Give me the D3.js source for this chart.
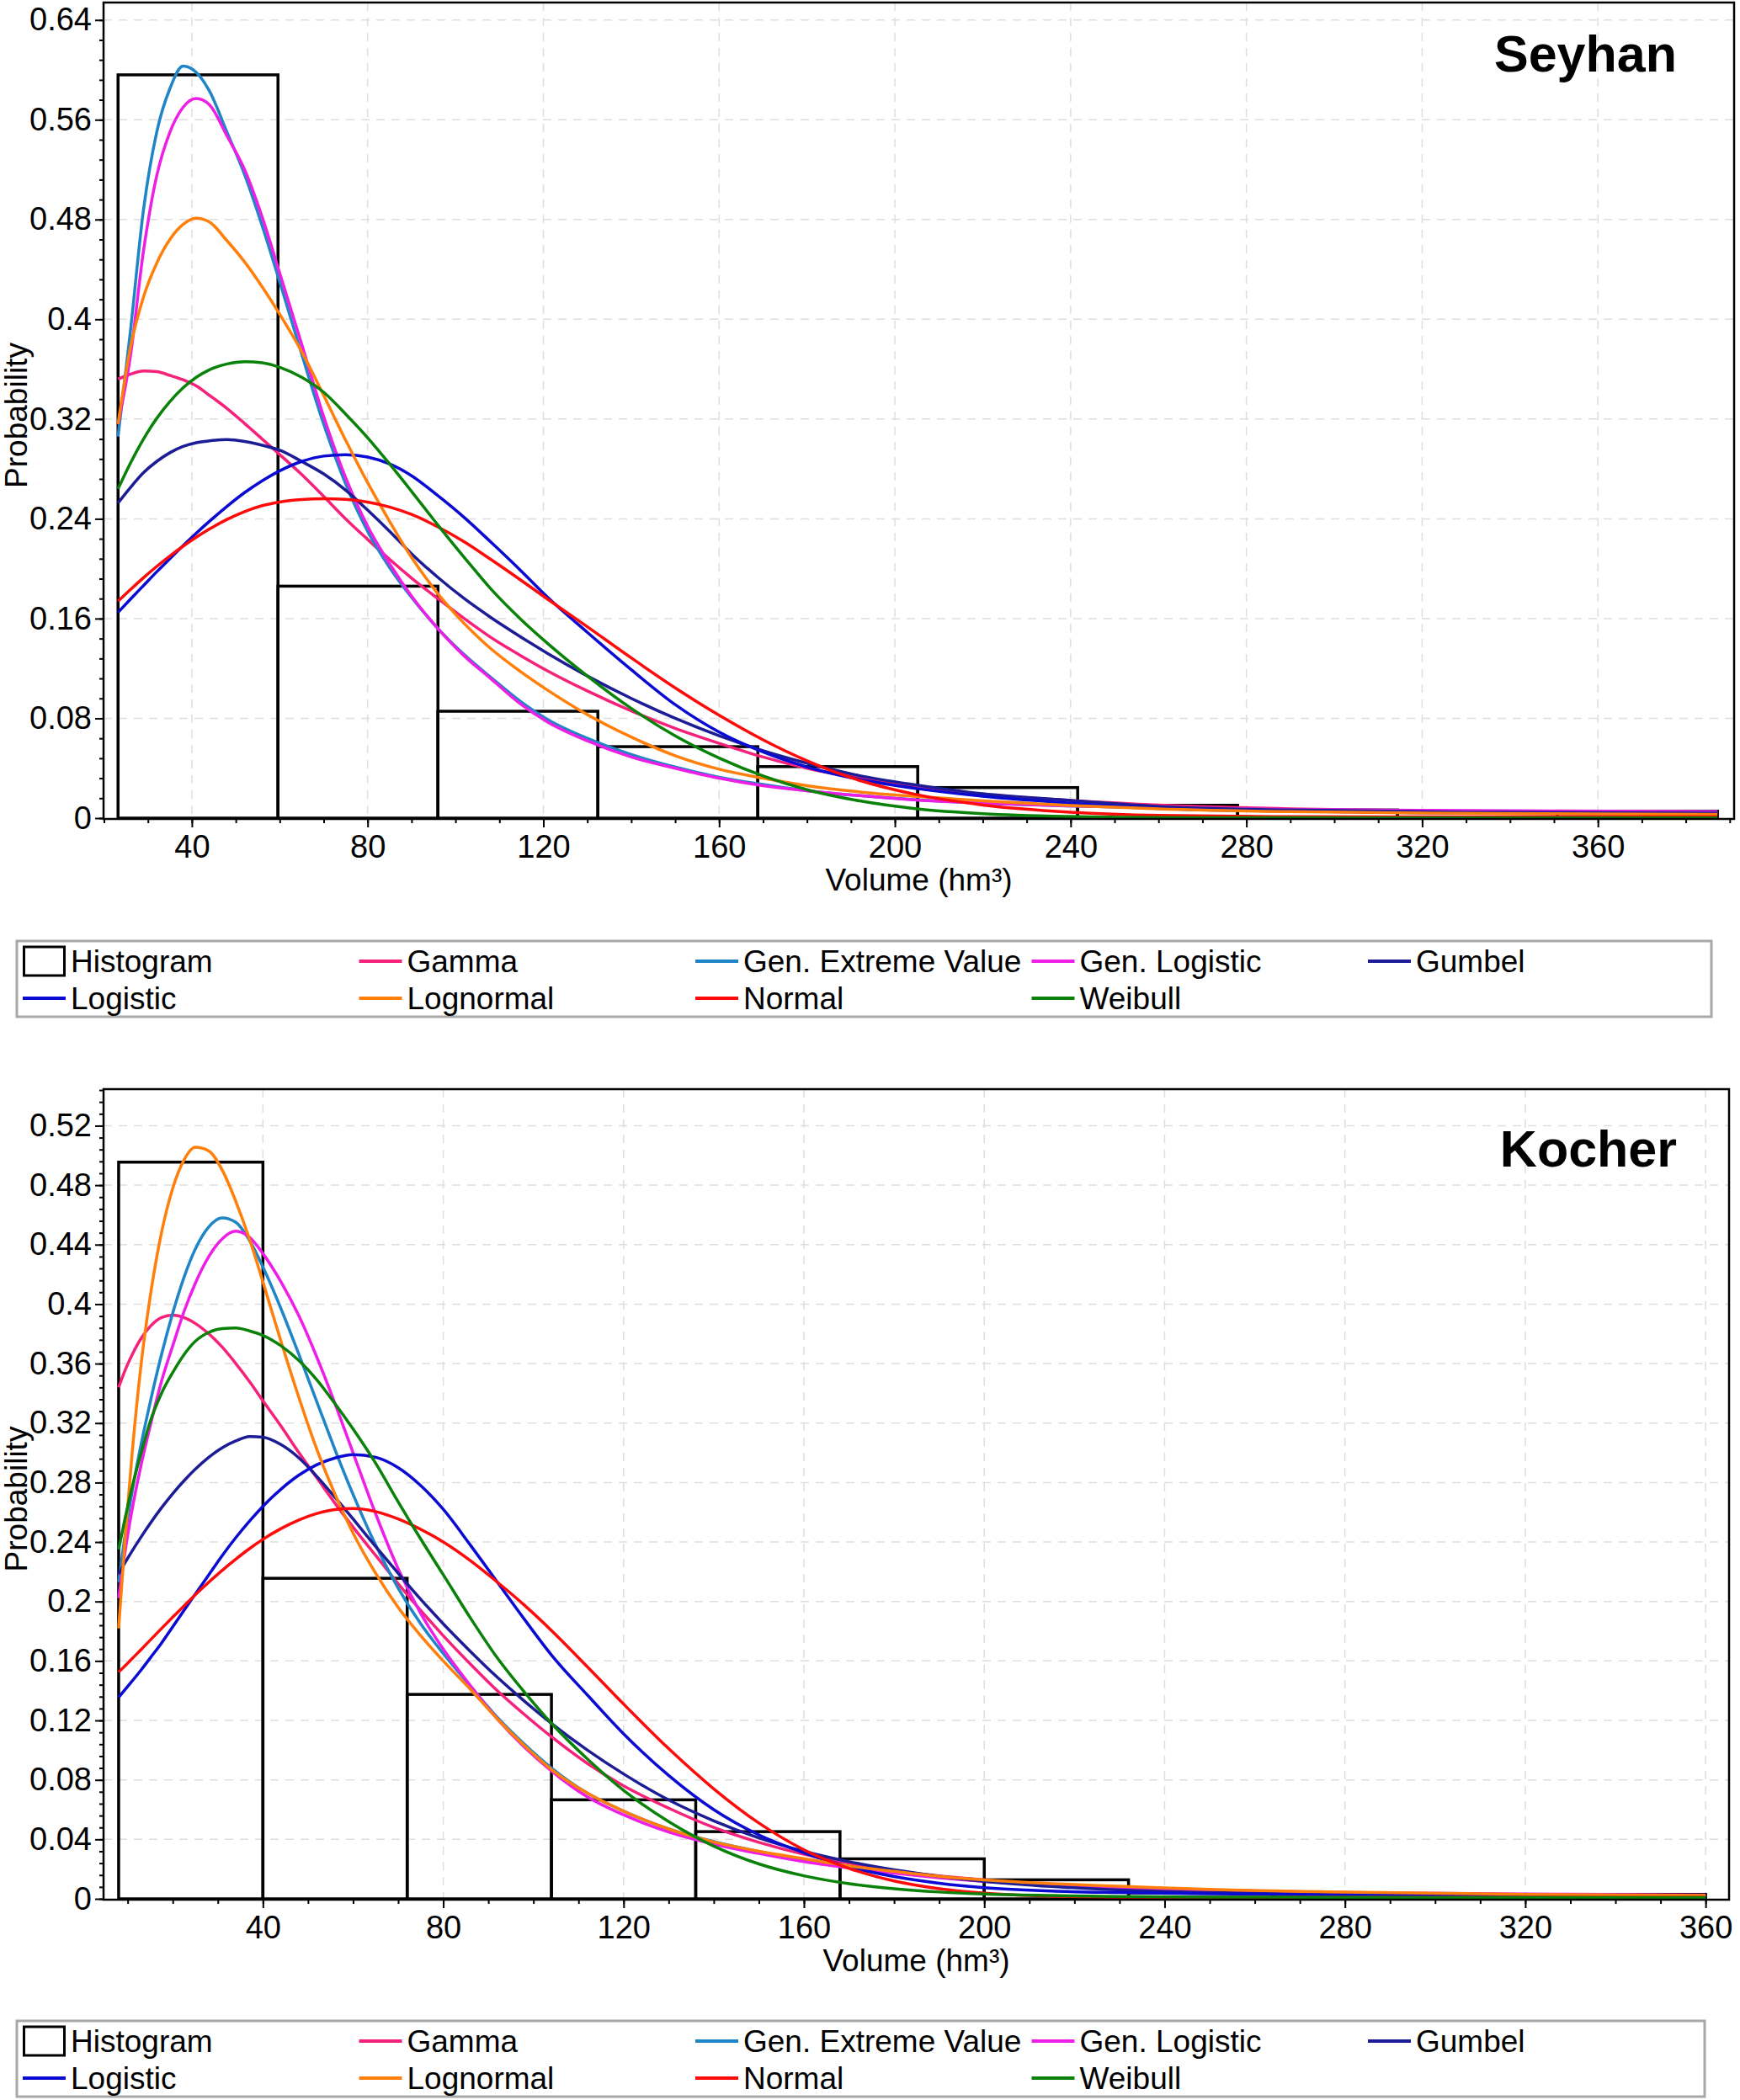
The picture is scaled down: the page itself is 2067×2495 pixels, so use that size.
<!DOCTYPE html>
<html>
<head>
<meta charset="utf-8">
<script src="https://cdn.jsdelivr.net/npm/d3@7"></script>
<style>
	body { margin: 0; background: #fff; }
	text { font-family: Arial, "Liberation Sans", sans-serif; }
</style>
</head>
<body>
<div id="demo"></div>
<script>

// ---- data ----

// Seyhan: sample volumes for the fitted curves
var seyhanVolume = [23.2, 26, 29, 32, 35, 38, 41, 44, 48, 52, 56, 60, 65, 70, 75, 80, 85, 90, 96, 102, 108, 115, 121, 130, 140, 150, 160, 170, 180, 192, 205, 220, 240, 260, 290, 330, 387.2];
var seyhanGamma     = [0.352, 0.356, 0.3585, 0.358, 0.355, 0.3515, 0.3465, 0.339, 0.3285, 0.3165, 0.304, 0.2915, 0.2755, 0.258, 0.24, 0.2235, 0.2075, 0.1925, 0.176, 0.16, 0.145, 0.13, 0.118, 0.102, 0.086, 0.072, 0.06, 0.049, 0.04, 0.032, 0.025, 0.019, 0.0142, 0.0105, 0.0075, 0.0055, 0.004];
var seyhanGev       = [0.306, 0.39, 0.488, 0.55, 0.585, 0.603, 0.598, 0.583, 0.55, 0.516, 0.475, 0.43, 0.372, 0.316, 0.268, 0.23, 0.201, 0.177, 0.152, 0.131, 0.113, 0.093, 0.079, 0.064, 0.051, 0.041, 0.0328, 0.027, 0.022, 0.018, 0.0147, 0.012, 0.0098, 0.0081, 0.0068, 0.0058, 0.005];
var seyhanGenLog    = [0.316, 0.37, 0.455, 0.515, 0.55, 0.57, 0.577, 0.572, 0.547, 0.52, 0.482, 0.437, 0.38, 0.322, 0.273, 0.234, 0.204, 0.178, 0.152, 0.13, 0.112, 0.091, 0.077, 0.062, 0.049, 0.04, 0.032, 0.026, 0.022, 0.018, 0.0145, 0.012, 0.0098, 0.0083, 0.007, 0.006, 0.0052];
var seyhanGumbel    = [0.2527, 0.265, 0.277, 0.286, 0.293, 0.298, 0.301, 0.3025, 0.3035, 0.302, 0.299, 0.295, 0.286, 0.276, 0.263, 0.247, 0.23, 0.212, 0.193, 0.176, 0.161, 0.145, 0.132, 0.114, 0.096, 0.08, 0.066, 0.054, 0.044, 0.034, 0.0265, 0.0195, 0.0142, 0.0093, 0.0065, 0.0048, 0.004];
var seyhanLogistic  = [0.165, 0.1755, 0.1865, 0.1975, 0.208, 0.2185, 0.2285, 0.238, 0.25, 0.261, 0.2705, 0.2785, 0.286, 0.2903, 0.2914, 0.2895, 0.284, 0.2745, 0.2585, 0.241, 0.2215, 0.198, 0.177, 0.149, 0.119, 0.091, 0.069, 0.053, 0.041, 0.031, 0.0237, 0.0175, 0.012, 0.0078, 0.0055, 0.004, 0.003];
var seyhanLognormal = [0.316, 0.377, 0.418, 0.445, 0.464, 0.476, 0.481, 0.478, 0.463, 0.446, 0.426, 0.404, 0.374, 0.339, 0.303, 0.269, 0.238, 0.209, 0.18, 0.156, 0.136, 0.117, 0.1025, 0.083, 0.065, 0.05, 0.0392, 0.032, 0.026, 0.021, 0.0173, 0.0138, 0.0102, 0.0075, 0.0052, 0.0038, 0.003];
var seyhanNormal    = [0.174, 0.1832, 0.1928, 0.2018, 0.2102, 0.218, 0.2252, 0.2318, 0.2395, 0.2458, 0.2506, 0.2535, 0.2555, 0.2562, 0.2556, 0.2535, 0.2495, 0.2435, 0.2335, 0.2215, 0.2075, 0.1905, 0.1755, 0.1535, 0.1285, 0.1045, 0.0825, 0.0628, 0.046, 0.0302, 0.0188, 0.0105, 0.0048, 0.0022, 0.0012, 0.001, 0.001];
var seyhanWeibull   = [0.264, 0.2845, 0.304, 0.3205, 0.334, 0.345, 0.3535, 0.3595, 0.3642, 0.366, 0.3652, 0.3615, 0.3535, 0.3415, 0.324, 0.305, 0.284, 0.262, 0.235, 0.209, 0.184, 0.159, 0.14, 0.114, 0.088, 0.066, 0.0482, 0.0338, 0.0228, 0.0138, 0.0075, 0.0036, 0.0013, 0.0005, 0.0003, 0.0002, 0.0002];
var seyhanBinEdges   = [23.2, 59.6, 96.0, 132.4, 168.8, 205.2, 241.6, 278.0, 314.4, 350.8, 387.2];
var seyhanBinHeights = [0.596, 0.186, 0.0857, 0.0573, 0.0413, 0.0245, 0.0103, 0.0065, 0.0045, 0.0056];
var seyhanYTicks      = [0, 0.08, 0.16, 0.24, 0.32, 0.4, 0.48, 0.56, 0.64];
var seyhanYTickLabels = ['0', '0.08', '0.16', '0.24', '0.32', '0.4', '0.48', '0.56', '0.64'];

// Kocher
var kocherVolume = [8, 9.5, 11, 13, 15, 17.5, 20, 22.5, 25, 28, 31, 34, 37, 40, 44, 48, 52, 56, 60, 65, 70, 75, 80, 86, 92, 98, 104, 112, 120, 130, 140, 150, 160, 170, 180, 190, 200, 215, 230, 250, 280, 320, 360];
var kocherGamma     = [0.344, 0.356, 0.366, 0.377, 0.385, 0.391, 0.3926, 0.391, 0.387, 0.38, 0.371, 0.36, 0.348, 0.335, 0.318, 0.3, 0.283, 0.266, 0.25, 0.231, 0.212, 0.194, 0.177, 0.158, 0.14, 0.124, 0.109, 0.091, 0.076, 0.061, 0.048, 0.038, 0.03, 0.024, 0.019, 0.0155, 0.0128, 0.0095, 0.0072, 0.0055, 0.004, 0.0028, 0.002];
var kocherGev       = [0.213, 0.246, 0.274, 0.306, 0.334, 0.366, 0.394, 0.418, 0.437, 0.452, 0.458, 0.455, 0.443, 0.425, 0.397, 0.366, 0.334, 0.302, 0.272, 0.238, 0.209, 0.185, 0.165, 0.143, 0.122, 0.104, 0.088, 0.071, 0.059, 0.047, 0.0385, 0.0318, 0.026, 0.0214, 0.0178, 0.0147, 0.0123, 0.0095, 0.0072, 0.0056, 0.004, 0.0028, 0.002];
var kocherGenLog    = [0.2023, 0.235, 0.262, 0.292, 0.318, 0.348, 0.372, 0.395, 0.414, 0.432, 0.444, 0.449, 0.445, 0.434, 0.415, 0.392, 0.364, 0.333, 0.3, 0.259, 0.222, 0.192, 0.168, 0.1435, 0.121, 0.102, 0.086, 0.0685, 0.0565, 0.045, 0.0368, 0.0305, 0.025, 0.0208, 0.0172, 0.0142, 0.0118, 0.0092, 0.0072, 0.0058, 0.0042, 0.0032, 0.0026];
var kocherGumbel    = [0.2185, 0.2265, 0.234, 0.2435, 0.2525, 0.263, 0.2725, 0.2812, 0.289, 0.297, 0.3035, 0.308, 0.311, 0.3105, 0.3055, 0.2965, 0.284, 0.27, 0.2555, 0.237, 0.219, 0.2015, 0.185, 0.1665, 0.149, 0.133, 0.118, 0.1, 0.084, 0.0665, 0.0525, 0.041, 0.032, 0.025, 0.0195, 0.0152, 0.0118, 0.0083, 0.006, 0.0042, 0.0028, 0.0018, 0.0013];
var kocherLogistic  = [0.1355, 0.141, 0.1465, 0.154, 0.162, 0.172, 0.183, 0.194, 0.205, 0.218, 0.231, 0.243, 0.254, 0.264, 0.2755, 0.285, 0.292, 0.2965, 0.2987, 0.297, 0.29, 0.278, 0.262, 0.238, 0.213, 0.188, 0.164, 0.137, 0.111, 0.083, 0.06, 0.043, 0.031, 0.0215, 0.015, 0.0105, 0.0075, 0.0052, 0.0042, 0.0034, 0.0025, 0.0018, 0.0015];
var kocherLognormal = [0.182, 0.245, 0.3, 0.36, 0.405, 0.448, 0.478, 0.497, 0.5055, 0.503, 0.49, 0.469, 0.444, 0.415, 0.375, 0.337, 0.302, 0.272, 0.246, 0.219, 0.196, 0.177, 0.16, 0.141, 0.121, 0.103, 0.087, 0.071, 0.059, 0.047, 0.0383, 0.032, 0.027, 0.0221, 0.0185, 0.0152, 0.0127, 0.0102, 0.0085, 0.0063, 0.0045, 0.003, 0.0023];
var kocherNormal    = [0.1525, 0.157, 0.1616, 0.1677, 0.174, 0.1818, 0.1895, 0.197, 0.2045, 0.213, 0.221, 0.2285, 0.2355, 0.2418, 0.249, 0.2548, 0.2592, 0.2618, 0.2625, 0.2605, 0.2555, 0.2485, 0.24, 0.2275, 0.213, 0.1975, 0.1805, 0.156, 0.131, 0.101, 0.074, 0.051, 0.033, 0.0205, 0.012, 0.0068, 0.0038, 0.0018, 0.0012, 0.001, 0.001, 0.001, 0.001];
var kocherWeibull   = [0.235, 0.257, 0.277, 0.3, 0.321, 0.34, 0.354, 0.366, 0.375, 0.381, 0.3835, 0.384, 0.382, 0.379, 0.372, 0.362, 0.349, 0.333, 0.316, 0.293, 0.267, 0.242, 0.218, 0.189, 0.162, 0.139, 0.118, 0.094, 0.073, 0.052, 0.0355, 0.0235, 0.0155, 0.0102, 0.0068, 0.0046, 0.0032, 0.0022, 0.0016, 0.0012, 0.001, 0.0008, 0.0008];
var kocherBinEdges   = [8, 40, 72, 104, 136, 168, 200, 232, 264, 296, 328, 360];
var kocherBinHeights = [0.4955, 0.2156, 0.1375, 0.0666, 0.0452, 0.0269, 0.0128, 0.004, 0.003, 0.0022, 0.003];
var kocherYTicks      = [0, 0.04, 0.08, 0.12, 0.16, 0.2, 0.24, 0.28, 0.32, 0.36, 0.4, 0.44, 0.48, 0.52];
var kocherYTickLabels = ['0', '0.04', '0.08', '0.12', '0.16', '0.2', '0.24', '0.28', '0.32', '0.36', '0.4', '0.44', '0.48', '0.52'];

// shared
var xTicks      = [40, 80, 120, 160, 200, 240, 280, 320, 360];
var xTickLabels = ['40', '80', '120', '160', '200', '240', '280', '320', '360'];
var distNames   = ['Gamma', 'Gen. Extreme Value', 'Gen. Logistic', 'Gumbel', 'Logistic', 'Lognormal', 'Normal', 'Weibull'];
var legendOrder = ['Histogram', 'Gamma', 'Gen. Extreme Value', 'Gen. Logistic', 'Gumbel', 'Logistic', 'Lognormal', 'Normal', 'Weibull'];

// line colours per distribution
var distColors = {
	'Gamma': '#f5217a',
	'Gen. Extreme Value': '#1f85c6',
	'Gen. Logistic': '#ee1ee6',
	'Gumbel': '#1c1c96',
	'Logistic': '#0a0ad2',
	'Lognormal': '#ff7f0a',
	'Normal': '#ff0a0a',
	'Weibull': '#0a820a'
};

// ---- panel layout ----
var panels = [
	{
		title: 'Seyhan', titleY: 85,
		xs: seyhanVolume,
		series: [seyhanGamma, seyhanGev, seyhanGenLog, seyhanGumbel, seyhanLogistic, seyhanLognormal, seyhanNormal, seyhanWeibull],
		edges: seyhanBinEdges, heights: seyhanBinHeights,
		yTicks: seyhanYTicks, yTickLabels: seyhanYTickLabels, yMinorStep: 0.016,
		xDomain: [19.9, 391.0], yDomain: [0, 0.654],
		left: 123, right: 2060, top: 3, bottom: 972,
		legendTop: 1118, legendWidth: 2013
	},
	{
		title: 'Kocher', titleY: 1386,
		xs: kocherVolume,
		series: [kocherGamma, kocherGev, kocherGenLog, kocherGumbel, kocherLogistic, kocherLognormal, kocherNormal, kocherWeibull],
		edges: kocherBinEdges, heights: kocherBinHeights,
		yTicks: kocherYTicks, yTickLabels: kocherYTickLabels, yMinorStep: 0.008,
		xDomain: [4.65, 365.2], yDomain: [0, 0.5446],
		left: 123, right: 2054, top: 1294, bottom: 2256,
		legendTop: 2401, legendWidth: 2005
	}
];

var FONT = 'Arial, "Liberation Sans", sans-serif';

// SVG
var svg = d3.select("#demo").append("svg")
	.attr("width", 2067)
	.attr("height", 2495);

svg.append("rect")
	.attr("width", 2067).attr("height", 2495)
	.attr("fill", "#fff");

panels.forEach(function(p) {

	var x = d3.scaleLinear().domain(p.xDomain).range([p.left, p.right]);
	var y = d3.scaleLinear().domain(p.yDomain).range([p.bottom, p.top]);
	var g = svg.append("g");

	// grid
	g.selectAll(".vgrid")
		.data(xTicks)
		.enter()
		.append("line")
		.attr("x1", function(d) { return x(d); })
		.attr("x2", function(d) { return x(d); })
		.attr("y1", p.top)
		.attr("y2", p.bottom)
		.attr("stroke", "#dedede")
		.attr("stroke-width", 1.5)
		.attr("stroke-dasharray", "10,8");

	g.selectAll(".hgrid")
		.data(p.yTicks.filter(function(d) { return d > 0; }))
		.enter()
		.append("line")
		.attr("x1", p.left)
		.attr("x2", p.right)
		.attr("y1", function(d) { return y(d); })
		.attr("y2", function(d) { return y(d); })
		.attr("stroke", "#dedede")
		.attr("stroke-width", 1.5)
		.attr("stroke-dasharray", "10,8");

	// histogram
	g.selectAll(".bar")
		.data(p.heights)
		.enter()
		.append("rect")
		.attr("x", function(d, i) { return x(p.edges[i]); })
		.attr("width", function(d, i) { return x(p.edges[i + 1]) - x(p.edges[i]); })
		.attr("y", function(d) { return y(d); })
		.attr("height", function(d) { return y(0) - y(d); })
		.attr("fill", "none")
		.attr("stroke", "#000")
		.attr("stroke-width", 3.5);

	// fitted curves
	var lineGen = d3.line()
		.curve(d3.curveMonotoneX)
		.x(function(d, i) { return x(p.xs[i]); })
		.y(function(d) { return y(d); });

	g.selectAll(".curve")
		.data(p.series)
		.enter()
		.append("path")
		.attr("d", function(d) { return lineGen(d); })
		.attr("fill", "none")
		.attr("stroke", function(d, i) { return distColors[distNames[i]]; })
		.attr("stroke-width", 3.5);

	// frame
	g.append("rect")
		.attr("x", p.left)
		.attr("y", p.top)
		.attr("width", p.right - p.left)
		.attr("height", p.bottom - p.top + 1)
		.attr("fill", "none")
		.attr("stroke", "#000")
		.attr("stroke-width", 2.5);

	// x axis, major + minor ticks
	var xAxis = d3.axisBottom(x)
		.tickValues(xTicks)
		.tickFormat(function(d, i) { return xTickLabels[i]; })
		.tickSizeInner(10).tickSizeOuter(0).tickPadding(9);
	var xa = g.append("g")
		.attr("transform", "translate(0," + (p.bottom + 1) + ")")
		.call(xAxis);

	var xMinor = d3.range(Math.ceil(p.xDomain[0] / 10) * 10, p.xDomain[1], 10);
	var xm = g.append("g")
		.attr("transform", "translate(0," + (p.bottom + 1) + ")")
		.call(d3.axisBottom(x).tickValues(xMinor).tickSize(5).tickFormat(""));

	// y axis
	var yAxis = d3.axisLeft(y)
		.tickValues(p.yTicks)
		.tickFormat(function(d, i) { return p.yTickLabels[i]; })
		.tickSizeInner(10).tickSizeOuter(0).tickPadding(4);
	var ya = g.append("g")
		.attr("transform", "translate(" + p.left + ",0)")
		.call(yAxis);

	var nMinor = Math.floor(p.yDomain[1] / p.yMinorStep + 1e-6);
	var yMinor = d3.range(0, nMinor + 1).map(function(i) { return +(i * p.yMinorStep).toFixed(4); });
	var ym = g.append("g")
		.attr("transform", "translate(" + p.left + ",0)")
		.call(d3.axisLeft(y).tickValues(yMinor).tickSize(5).tickFormat(""));

	[xa, xm, ya, ym].forEach(function(a) {
		a.select(".domain").remove();
		a.selectAll("line").attr("stroke", "#000").attr("stroke-width", 2);
		a.selectAll("text")
			.attr("font-size", 38)
			.attr("font-family", FONT)
			.attr("fill", "#000");
	});

	// title in the corner
	g.append("text")
		.attr("x", 1992)
		.attr("y", p.titleY)
		.attr("text-anchor", "end")
		.attr("font-size", 61)
		.attr("font-weight", "bold")
		.attr("font-family", FONT)
		.text(p.title);

	// axis titles
	g.append("text")
		.attr("x", (p.left + p.right) / 2)
		.attr("y", p.bottom + 86)
		.attr("text-anchor", "middle")
		.attr("font-size", 37)
		.attr("font-family", FONT)
		.text("Volume (hm\u00B3)");

	var cy = (p.top + p.bottom) / 2 + 6;
	g.append("text")
		.attr("transform", "translate(32," + cy + ") rotate(-90)")
		.attr("text-anchor", "middle")
		.attr("font-size", 37)
		.attr("font-family", FONT)
		.text("Probability");

	// legend
	var lg = g.append("g");
	lg.append("rect")
		.attr("x", 20)
		.attr("y", p.legendTop)
		.attr("width", p.legendWidth)
		.attr("height", 90)
		.attr("fill", "#fff")
		.attr("stroke", "#a8a8a8")
		.attr("stroke-width", 3);

	var item = lg.selectAll(".item")
		.data(legendOrder)
		.enter()
		.append("g")
		.attr("transform", function(d, i) {
			var col = i % 5, row = Math.floor(i / 5);
			return "translate(" + (27 + col * 399.5) + "," + (p.legendTop + 24 + row * 44) + ")";
		});

	item.each(function(d) {
		var it = d3.select(this);
		if (d === 'Histogram') {
			it.append("rect")
				.attr("x", 1.5).attr("y", -17)
				.attr("width", 48).attr("height", 34)
				.attr("fill", "none")
				.attr("stroke", "#000")
				.attr("stroke-width", 3);
		} else {
			it.append("line")
				.attr("x1", 0).attr("x2", 51)
				.attr("y1", 0).attr("y2", 0)
				.attr("stroke", distColors[d])
				.attr("stroke-width", 4);
		}
		it.append("text")
			.attr("x", 57)
			.attr("y", 0)
			.attr("dy", "0.36em")
			.attr("font-size", 37)
			.attr("font-family", FONT)
			.text(d);
	});
});

</script>
</body>
</html>
